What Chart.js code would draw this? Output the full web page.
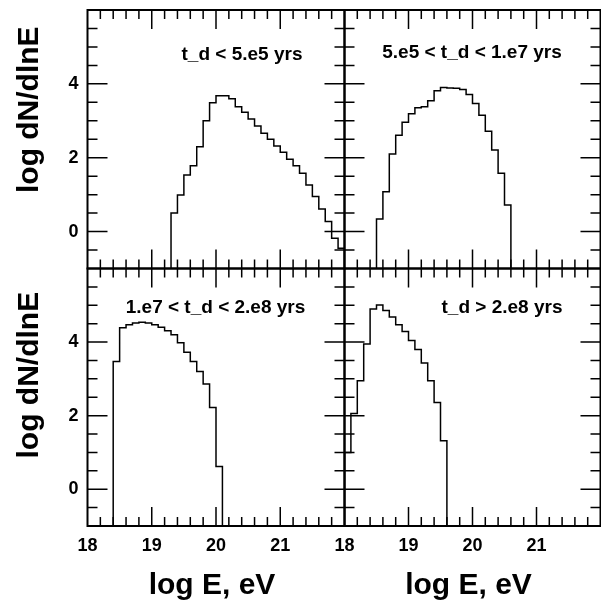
<!DOCTYPE html>
<html>
<head>
<meta charset="utf-8">
<script src="https://cdn.jsdelivr.net/npm/chart.js@4.4.0/dist/chart.umd.min.js"></script>
<style>
  body { margin: 0; background: #fff; }
  #wrap { position: relative; width: 601px; height: 604px; }
  canvas { position: absolute; left: 0; top: 0; }
</style>
</head>
<body>
<div id="wrap">
  <canvas id="c1" width="601" height="604"></canvas>
  <canvas id="c2" width="601" height="604"></canvas>
  <canvas id="c3" width="601" height="604"></canvas>
  <canvas id="c4" width="601" height="604"></canvas>
</div>
<script>
// histogram data, bins of 0.1 in log E
const binWidth = 0.1;

const p1Start = 19.3;
const p1Values = [0.50, 0.99, 1.53, 1.78, 2.30, 3.00, 3.49, 3.68, 3.68, 3.60, 3.38, 3.23, 3.05, 2.86,
  2.66, 2.50, 2.32, 2.15, 1.96, 1.78, 1.58, 1.26, 0.95, 0.61, 0.27, -0.18, -0.45];

const p2Start = 18.5;
const p2Values = [0.34, 1.08, 2.10, 2.61, 2.96, 3.19, 3.35, 3.38, 3.54, 3.81, 3.90, 3.89, 3.88, 3.85,
  3.71, 3.47, 3.15, 2.72, 2.21, 1.58, 0.72];

const p3Start = 18.4;
const p3Values = [3.47, 4.39, 4.47, 4.52, 4.54, 4.52, 4.47, 4.40, 4.31, 4.20, 3.98, 3.72, 3.47, 3.20,
  2.86, 2.22, 0.62];

const p4Start = 18.0;
const p4Values = [1.00, 2.06, 2.95, 3.95, 4.90, 5.01, 4.86, 4.68, 4.47, 4.29, 4.04, 3.80, 3.43, 2.95,
  2.36, 1.32];

const panelLabels = ['t_d < 5.e5 yrs', '5.e5 < t_d < 1.e7 yrs', '1.e7 < t_d < 2.e8 yrs', 't_d > 2.e8 yrs'];
const xTickLabels = [18, 19, 20, 21];
const yTickLabels = [0, 2, 4];
const xTitle = 'log E, eV';
const yTitle = 'log dN/dlnE';

const xMin = 18, xMax = 22, yMin = -1, yMax = 6;
const FONT = '"Liberation Sans", Arial, Helvetica, sans-serif';

// build step points: drop to the axis floor at both ends
function stepPoints(start, values) {
  const pts = [{ x: start, y: yMin }];
  values.forEach((v, i) => pts.push({ x: start + i * binWidth, y: v }));
  pts.push({ x: start + values.length * binWidth, y: yMin });
  return pts;
}

const framePlugin = {
  id: 'frame',
  afterDraw(chart, args, opts) {
    const ctx = chart.ctx;
    const xs = chart.scales.x, ys = chart.scales.y;
    const a = chart.chartArea;
    ctx.save();
    ctx.strokeStyle = '#000';
    ctx.lineWidth = 1.5;
    ctx.beginPath();
    // x ticks every 0.2, major every 1
    for (let i = 1; i < 20; i++) {
      const px = xs.getPixelForValue(xMin + i * 0.2);
      const len = i % 5 === 0 ? 19 : 9;
      ctx.moveTo(px, a.bottom); ctx.lineTo(px, a.bottom - len);
      ctx.moveTo(px, a.top); ctx.lineTo(px, a.top + len);
    }
    // y ticks every 0.5, major every 2
    for (let i = 1; i < 14; i++) {
      const v = yMin + i * 0.5;
      const py = ys.getPixelForValue(v);
      const len = v % 2 === 0 ? 20 : 10;
      ctx.moveTo(a.left, py); ctx.lineTo(a.left + len, py);
      ctx.moveTo(a.right, py); ctx.lineTo(a.right - len, py);
    }
    ctx.stroke();
    ctx.lineWidth = 2;
    ctx.strokeRect(a.left, a.top, a.right - a.left, a.bottom - a.top);

    ctx.fillStyle = '#000';
    ctx.font = 'bold 19px ' + FONT;
    ctx.textAlign = 'center';
    ctx.textBaseline = 'middle';
    ctx.fillText(opts.label, opts.labelX, ys.getPixelForValue(opts.labelY));

    ctx.font = 'bold 18px ' + FONT;
    if (opts.showX) {
      xTickLabels.forEach(t => ctx.fillText(String(t), xs.getPixelForValue(t), a.bottom + 20));
      ctx.font = 'bold 30px ' + FONT;
      ctx.fillText(xTitle, (a.left + a.right) / 2 - 4, a.bottom + 60);
    }
    ctx.font = 'bold 18px ' + FONT;
    if (opts.showY) {
      ctx.textAlign = 'right';
      yTickLabels.forEach(t => ctx.fillText(String(t), a.left - 9, ys.getPixelForValue(t)));
      ctx.save();
      ctx.font = 'bold 30px ' + FONT;
      ctx.textAlign = 'center';
      ctx.translate(30, ys.getPixelForValue(opts.titleY));
      ctx.rotate(-Math.PI / 2);
      ctx.fillText(yTitle, 0, 0);
      ctx.restore();
    }
    ctx.restore();
  }
};

const panels = [
  { id: 'c1', start: p1Start, values: p1Values, pad: { left: 87.5, top: 10, right: 256.5, bottom: 335.5 },
    label: panelLabels[0], labelX: 242, labelY: 4.8, showX: false, showY: true, titleY: 3.3 },
  { id: 'c2', start: p2Start, values: p2Values, pad: { left: 344.5, top: 10, right: 0.5, bottom: 335.5 },
    label: panelLabels[1], labelX: 472, labelY: 4.85, showX: false, showY: false },
  { id: 'c3', start: p3Start, values: p3Values, pad: { left: 87.5, top: 268.5, right: 256.5, bottom: 78 },
    label: panelLabels[2], labelX: 215.5, labelY: 4.92, showX: true, showY: true, titleY: 3.1 },
  { id: 'c4', start: p4Start, values: p4Values, pad: { left: 344.5, top: 268.5, right: 0.5, bottom: 78 },
    label: panelLabels[3], labelX: 502, labelY: 4.92, showX: true, showY: false }
];

panels.forEach(p => {
  new Chart(document.getElementById(p.id), {
    type: 'line',
    data: {
      datasets: [{
        data: stepPoints(p.start, p.values),
        stepped: 'before',
        borderColor: '#000',
        borderWidth: 1.5,
        pointRadius: 0,
        fill: false
      }]
    },
    options: {
      responsive: false,
      animation: false,
      layout: { padding: p.pad },
      plugins: {
        legend: { display: false },
        tooltip: { enabled: false },
        frame: { label: p.label, labelX: p.labelX, labelY: p.labelY, showX: p.showX, showY: p.showY, titleY: p.titleY }
      },
      scales: {
        x: { type: 'linear', min: xMin, max: xMax, display: false },
        y: { type: 'linear', min: yMin, max: yMax, display: false }
      }
    },
    plugins: [framePlugin]
  });
});
</script>
</body>
</html>
